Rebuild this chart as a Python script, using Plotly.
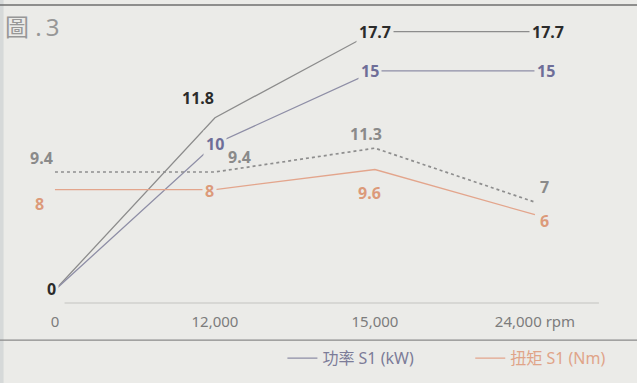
import plotly.graph_objects as go

# Motor speed points (categorical positions 0..3)
rpm_labels = ["0", "12,000", "15,000", "24,000 rpm"]
rpm_pos = [0, 1, 2, 3]

power_s6 = [0, 11.8, 17.7, 17.7]   # kW, peak power
power_s1 = [0, 10, 15, 15]         # kW, continuous power
torque_s6 = [9.4, 9.4, 11.3, 7]    # Nm, peak torque
torque_s1 = [8, 8, 9.6, 6]         # Nm, continuous torque

BG = "#ebebe8"
FONT = "Noto Sans, Noto Sans CJK TC, sans-serif"

C_P6_LINE, C_P6_TXT = "#8c8c8c", "#2b2b2b"
C_P1_LINE, C_P1_TXT = "#8e8ea6", "#6e6e98"
C_T6_LINE, C_T6_TXT = "#8e8e8e", "#8a8a8a"
C_T1_LINE, C_T1_TXT = "#e3a58c", "#dc9a7a"

fig = go.Figure()

fig.add_trace(go.Scatter(x=rpm_pos, y=power_s6, mode="lines", yaxis="y",
                         line=dict(color=C_P6_LINE, width=1.3), showlegend=False))
fig.add_trace(go.Scatter(x=rpm_pos, y=power_s1, mode="lines", yaxis="y",
                         line=dict(color=C_P1_LINE, width=1.3), legend="legend",
                         name='<span style="color:#7c7c98">功率 S1 (kW)</span>'))
fig.add_trace(go.Scatter(x=rpm_pos, y=torque_s6, mode="lines", yaxis="y2",
                         line=dict(color=C_T6_LINE, width=1.7, dash="dot"), showlegend=False))
fig.add_trace(go.Scatter(x=rpm_pos, y=torque_s1, mode="lines", yaxis="y2",
                         line=dict(color=C_T1_LINE, width=1.3), legend="legend2",
                         name='<span style="color:#e0a488">扭矩 S1 (Nm)</span>'))

# value labels: (series, y-axis, colour, size, shifts per point, masked per point)
label_specs = [
    (power_s6, "y", C_P6_TXT, 16,
     [(-3, 1), (-17, 20), (0, 0), (13, 0)], [True, False, True, True]),
    (power_s1, "y", C_P1_TXT, 16,
     [None, (0, 0), (-5, 0), (11, 0)], [False, True, True, True]),
    (torque_s6, "y2", C_T6_TXT, 16,
     [(-13, 14), (25, 15), (-9, 14), (10, 15)], [False, False, False, False]),
    (torque_s1, "y2", C_T1_TXT, 16,
     [(-15, -14), (-5, -1), (-5, -23), (10, -6)], [False, True, False, False]),
]

annotations = []
for values, yref, color, size, shifts, masked in label_specs:
    for x, v, sh, m in zip(rpm_pos, values, shifts, masked):
        if sh is None:
            continue
        annotations.append(dict(
            x=x, y=v, xref="x", yref=yref, text=f"<b>{v:g}</b>",
            showarrow=False, xshift=sh[0], yshift=sh[1],
            font=dict(family=FONT, size=size, color=color),
            bgcolor=BG if m else "rgba(0,0,0,0)", borderpad=2,
        ))

# figure caption
annotations.append(dict(
    x=0.0, y=1.0, xref="paper", yref="paper", xanchor="left", yanchor="top",
    text="圖 .&#8201;3", showarrow=False, xshift=-27, yshift=12,
    font=dict(family=FONT, size=24, color="#979797"),
))

shapes = [
    # frame rules above the chart and between axis and legend
    dict(type="line", xref="paper", yref="paper", x0=-0.06, x1=1.05, y0=1.053, y1=1.053,
         line=dict(color="#6f6f6f", width=1.5)),
    dict(type="line", xref="paper", yref="paper", x0=-0.06, x1=1.05, y0=-0.131, y1=-0.131,
         line=dict(color="#8a8a8a", width=1.2)),
    # category baseline
    dict(type="line", xref="x", yref="paper", x0=0.06, x1=3.4, y0=0, y1=0,
         line=dict(color="#c4c4c0", width=1.2)),
    # darker left margin strip
    dict(type="rect", xref="paper", yref="paper", x0=-0.06, x1=-0.045, y0=-0.3, y1=1.1,
         fillcolor="#d6d9d9", line=dict(width=0), layer="below"),
]

legend_common = dict(orientation="h", yanchor="middle", xanchor="left",
                     bgcolor="rgba(0,0,0,0)", font=dict(size=16, family=FONT),
                     itemwidth=30)

fig.update_layout(
    width=637, height=383,
    margin=dict(l=30, r=20, t=20, b=80, autoexpand=False),
    paper_bgcolor=BG, plot_bgcolor=BG,
    font=dict(family=FONT, color="#7a7a7a"),
    xaxis=dict(range=[-0.156, 3.513], tickvals=rpm_pos, ticktext=rpm_labels,
               showgrid=False, zeroline=False, showline=False, ticks="",
               ticklabelstandoff=8,
               tickfont=dict(size=15, color="#7c7c7c"), fixedrange=True),
    yaxis=dict(range=[-0.89, 18.49], visible=False, showgrid=False, zeroline=False),
    yaxis2=dict(range=[-1.036, 21.51], overlaying="y", visible=False,
                showgrid=False, zeroline=False),
    legend=dict(x=0.43, y=-0.195, **legend_common),
    legend2=dict(x=0.75, y=-0.195, **legend_common),
    annotations=annotations,
    shapes=shapes,
)

fig.write_html("out.html")
